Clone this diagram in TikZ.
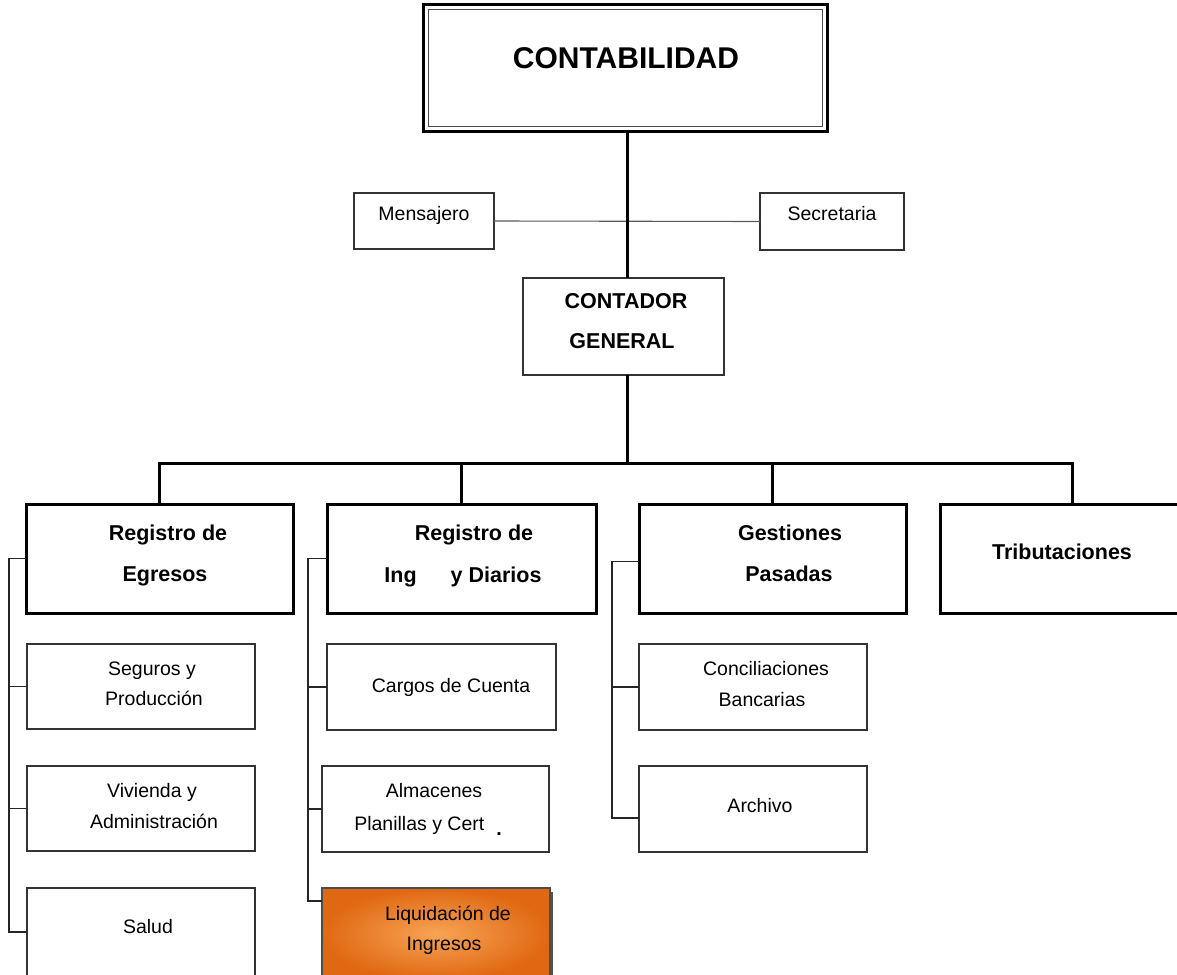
\documentclass[tikz,border=0pt]{standalone}
\usepackage{fontspec}
\setmainfont{Liberation Sans}
\usetikzlibrary{shadows}
\definecolor{liqouter}{RGB}{224,104,18}
\definecolor{liqinner}{RGB}{247,164,86}
\tikzset{bigbox/.style={draw, line width=3pt, anchor=north west, inner sep=0pt, outer sep=0pt, fill=white},
  smallbox/.style={draw=black!80, line width=1.3pt, anchor=north west, inner sep=0pt, outer sep=0pt, fill=white},
  bus/.style={line width=3pt},
  twig/.style={line width=1.1pt, black!85},
  boldtxt/.style={font=\fontsize{21.5}{21.5}\selectfont\bfseries, anchor=base, inner sep=0pt},
  plaintxt/.style={font=\fontsize{19.5}{19.5}\selectfont, anchor=base, inner sep=0pt}}

\begin{document}
\begin{tikzpicture}[x=1pt,y=-1pt]
\useasboundingbox (0,0) rectangle (1177,974);
\node[bigbox, minimum width=404pt, minimum height=126pt] (top) at (423,5) {};
\draw[line width=1pt, black!70] ([shift={(5pt,-5pt)}]top.north west) rectangle ([shift={(-5pt,5pt)}]top.south east);
\node[smallbox, minimum width=140pt, minimum height=56pt] (mens) at (354,193) {};
\node[smallbox, minimum width=144pt, minimum height=57pt] (secr) at (760,193) {};
\node[smallbox, minimum width=201pt, minimum height=97pt] (cont) at (523,278) {};
\node[bigbox, minimum width=267pt, minimum height=109pt] (egr) at (26,504) {};
\node[bigbox, minimum width=269pt, minimum height=109pt] (ing) at (327,504) {};
\node[bigbox, minimum width=267pt, minimum height=109pt] (gest) at (639,504) {};
\node[bigbox, minimum width=264pt, minimum height=109pt] (trib) at (940,504) {};
\node[smallbox, minimum width=228pt, minimum height=85pt] (seg) at (27,644) {};
\node[smallbox, minimum width=228pt, minimum height=85pt] (viv) at (27,766) {};
\node[smallbox, minimum width=228pt, minimum height=88pt] (sal) at (27,888) {};
\node[smallbox, minimum width=229pt, minimum height=86pt] (carg) at (327,644) {};
\node[smallbox, minimum width=227pt, minimum height=86pt] (alm) at (322,766) {};
\node[smallbox, draw=black!70, minimum width=228pt, minimum height=92pt, inner color=liqinner, outer color=liqouter,
  drop shadow={shadow xshift=3pt, shadow yshift=-4pt, fill=black!75, opacity=0.9}] (liq) at (322,888) {};
\node[smallbox, minimum width=228pt, minimum height=86pt] (conc) at (639,644) {};
\node[smallbox, minimum width=228pt, minimum height=86pt] (arch) at (639,766) {};
\coordinate (hub) at (627,463);
\draw[twig, black!65] (mens.east) -- (secr.west);
\draw[bus] (top.south -| hub) -- (cont.north -| hub);
\draw[bus] (cont.south -| hub) -- (hub);
\draw[bus] (egr.north) |- (hub) -| (trib.north);
\draw[bus] (ing.north) -- (ing.north |- hub);
\draw[bus] (gest.north) -- (gest.north |- hub);
\draw[twig] (egr.west) -- ++(-17,0) |- (sal.west);
\draw[twig] (seg.west) -- ++(-18,0);
\draw[twig] (viv.west) -- ++(-18,0);
\draw[twig] (ing.west) -- ++(-19,0) |- ([yshift=-13pt]liq.north west);
\draw[twig] (carg.west) -- ++(-19,0);
\draw[twig] (alm.west) -- ++(-14,0);
\draw[twig] ([yshift=-3pt]gest.west) -- ++(-27,0) |- ([yshift=-9pt]arch.west);
\draw[twig] (conc.west) -- ++(-27,0);
\node[font=\fontsize{30}{30}\selectfont\bfseries, anchor=base, inner sep=0pt] (top-t) at (626,69) {CONTABILIDAD};
\node[plaintxt] (mens-t) at (424,220) {Mensajero};
\node[plaintxt] (secr-t) at (832,220) {Secretaria};
\node[boldtxt] (cont-t1) at (626,308) {CONTADOR};
\node[boldtxt] (cont-t2) at (622,348) {GENERAL};
\node[boldtxt] (egr-t1) at (168,540) {Registro de};
\node[boldtxt] (egr-t2) at (165,581) {Egresos};
\node[boldtxt] (ing-t1) at (474,540) {Registro de};
\node[boldtxt] (ing-t2) at (463,582) {Ing\hspace{34pt}y Diarios};
\node[boldtxt] (gest-t1) at (790,540) {Gestiones};
\node[boldtxt] (gest-t2) at (789,581) {Pasadas};
\node[boldtxt] (trib-t) at (1062,559) {Tributaciones};
\node[plaintxt] (seg-t1) at (152,675) {Seguros y};
\node[plaintxt] (seg-t2) at (154,705) {Producción};
\node[plaintxt] (viv-t1) at (152,797) {Vivienda y};
\node[plaintxt] (viv-t2) at (154,828) {Administración};
\node[plaintxt] (sal-t) at (148,933) {Salud};
\node[plaintxt] (carg-t) at (451,692) {Cargos de Cuenta};
\node[plaintxt] (alm-t1) at (434,797) {Almacenes};
\node[plaintxt] (alm-t2) at (428,830) {Planillas y Cert\hspace{12pt}\raisebox{-5pt}{\bfseries .}};
\node[plaintxt] (liq-t1) at (448,920) {Liquidación de};
\node[plaintxt] (liq-t2) at (444,950) {Ingresos};
\node[plaintxt] (conc-t1) at (766,675) {Conciliaciones};
\node[plaintxt] (conc-t2) at (762,706) {Bancarias};
\node[plaintxt] (arch-t) at (760,812) {Archivo};
\end{tikzpicture}
\end{document}
